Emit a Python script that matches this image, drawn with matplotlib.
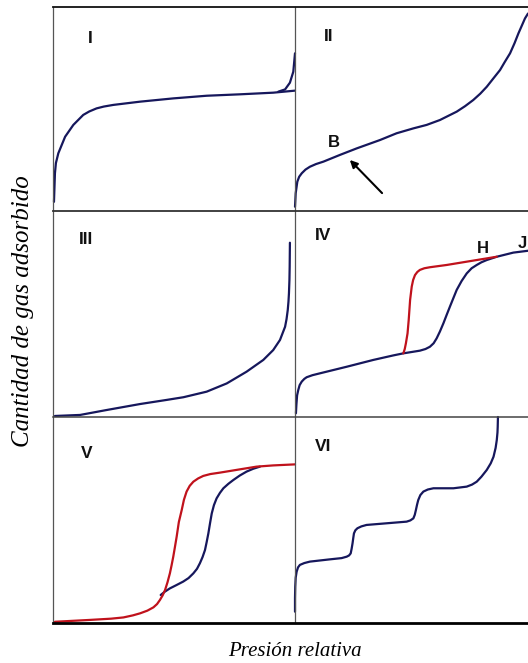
import matplotlib
matplotlib.use("Agg")
import matplotlib.pyplot as plt
from matplotlib.lines import Line2D

# ---------------- data (relative pressure, amount adsorbed; normalized per panel) -------------
I_x = [0.004, 0.008, 0.012, 0.022, 0.050, 0.084, 0.125, 0.150, 0.180, 0.210, 0.249, 0.360, 0.497,
       0.635, 0.773, 0.910, 1.0]
I_y = [0.045, 0.185, 0.235, 0.283, 0.364, 0.422, 0.471, 0.488, 0.503, 0.512, 0.520, 0.536, 0.552,
       0.565, 0.572, 0.580, 0.590]
I_bx = [0.931, 0.959, 0.979, 0.993, 1.0]
I_by = [0.585, 0.596, 0.629, 0.683, 0.773]

II_x = [0.0, 0.003, 0.010, 0.018, 0.029, 0.045, 0.064, 0.090, 0.122, 0.193, 0.265, 0.365, 0.436, 0.508,
        0.565, 0.622, 0.694, 0.730, 0.765, 0.795, 0.823, 0.850, 0.880, 0.900, 0.923, 0.942, 0.959,
        0.974, 0.987, 1.0]
II_y = [0.021, 0.087, 0.144, 0.168, 0.185, 0.203, 0.217, 0.230, 0.242, 0.275, 0.307, 0.348, 0.381, 0.405,
        0.422, 0.446, 0.487, 0.514, 0.544, 0.575, 0.609, 0.648, 0.691, 0.730, 0.773, 0.822, 0.871,
        0.910, 0.944, 0.968]

III_x = [0.008, 0.112, 0.222, 0.360, 0.470, 0.539, 0.635, 0.718, 0.800, 0.869, 0.910, 0.938, 0.959,
         0.965, 0.970, 0.973, 0.975, 0.977, 0.978, 0.979]
III_y = [0.005, 0.010, 0.034, 0.063, 0.083, 0.096, 0.123, 0.163, 0.220, 0.277, 0.325, 0.374, 0.438,
         0.475, 0.519, 0.560, 0.600, 0.665, 0.730, 0.846]

IV_ads_x = [0.004, 0.006, 0.009, 0.014, 0.020, 0.029, 0.040, 0.050, 0.075, 0.107, 0.222, 0.336, 0.422,
            0.465, 0.536, 0.560, 0.579, 0.595, 0.608, 0.622, 0.637, 0.651, 0.665, 0.680, 0.694, 0.715,
            0.737, 0.758, 0.780, 0.800, 0.823, 0.866, 0.937, 1.0]
IV_ads_y = [0.018, 0.060, 0.105, 0.131, 0.155, 0.172, 0.185, 0.193, 0.203, 0.212, 0.244, 0.277, 0.299,
            0.309, 0.322, 0.330, 0.341, 0.358, 0.382, 0.415, 0.455, 0.496, 0.536, 0.578, 0.617, 0.660,
            0.697, 0.722, 0.738, 0.751, 0.762, 0.778, 0.798, 0.807]
IV_des_x = [0.465, 0.471, 0.476, 0.483, 0.488, 0.494, 0.501, 0.507, 0.515, 0.525, 0.536, 0.555, 0.579,
            0.651, 0.737, 0.823, 0.866]
IV_des_y = [0.309, 0.330, 0.358, 0.406, 0.471, 0.568, 0.633, 0.665, 0.689, 0.704, 0.714, 0.722, 0.727,
            0.738, 0.754, 0.770, 0.778]

V_des_x = [0.008, 0.153, 0.240, 0.291, 0.330, 0.360, 0.390, 0.415, 0.430, 0.442, 0.453, 0.463, 0.473,
           0.483, 0.490, 0.497, 0.504, 0.511, 0.520, 0.532, 0.541, 0.552, 0.565, 0.580, 0.600, 0.621,
           0.650, 0.690, 0.773, 0.841, 0.910, 1.0]
V_des_y = [0.006, 0.015, 0.021, 0.027, 0.037, 0.047, 0.060, 0.076, 0.092, 0.112, 0.134, 0.160, 0.197,
           0.241, 0.280, 0.322, 0.370, 0.419, 0.490, 0.549, 0.598, 0.638, 0.666, 0.686, 0.702, 0.714,
           0.723, 0.730, 0.746, 0.759, 0.765, 0.770]
V_ads_x = [0.445, 0.462, 0.483, 0.510, 0.538, 0.560, 0.580, 0.595, 0.607, 0.618, 0.628, 0.635, 0.642,
           0.649, 0.656, 0.665, 0.676, 0.690, 0.704, 0.725, 0.745, 0.772, 0.800, 0.828, 0.855]
V_ads_y = [0.136, 0.152, 0.168, 0.184, 0.201, 0.218, 0.241, 0.263, 0.290, 0.320, 0.354, 0.393, 0.435,
           0.485, 0.532, 0.572, 0.605, 0.632, 0.654, 0.676, 0.694, 0.716, 0.735, 0.749, 0.759]

VI_x = [0.0, 0.0, 0.001, 0.003, 0.007, 0.013, 0.021, 0.040, 0.064, 0.150, 0.200, 0.222, 0.232, 0.239,
        0.243, 0.247, 0.250, 0.253, 0.259, 0.268, 0.285, 0.307, 0.393, 0.479, 0.495, 0.508, 0.514,
        0.519, 0.524, 0.529, 0.538, 0.551, 0.570, 0.594, 0.680, 0.737, 0.760, 0.780, 0.800, 0.823,
        0.840, 0.852, 0.861, 0.866, 0.869, 0.870, 0.871]
VI_y = [0.055, 0.120, 0.176, 0.220, 0.249, 0.270, 0.282, 0.291, 0.298, 0.309, 0.315, 0.322, 0.328, 0.338,
        0.360, 0.387, 0.412, 0.435, 0.450, 0.460, 0.469, 0.476, 0.484, 0.492, 0.498, 0.508, 0.525,
        0.549, 0.575, 0.597, 0.621, 0.638, 0.648, 0.654, 0.654, 0.662, 0.672, 0.686, 0.710, 0.743,
        0.775, 0.807, 0.850, 0.888, 0.925, 0.953, 1.0]

panel_labels = ["I", "II", "III", "IV", "V", "VI"]
label_pos = [(0.153, 0.848), (0.146, 0.853), (0.136, 0.864), (0.122, 0.883), (0.139, 0.824), (0.119, 0.856)]

# ---------------- figure ----------------
W, H = 528, 663
fig = plt.figure(figsize=(W / 100, H / 100), dpi=100)

BLUE = "#16175c"
RED = "#c0121c"
LW = 1.6

cols = [(53, 295), (295, 528)]
rows = [(7, 211), (211, 417), (417, 623)]

axes = []
for r in range(3):
    for c in range(2):
        x0, x1 = cols[c]
        y0, y1 = rows[r]
        ax = fig.add_axes([x0 / W, 1 - y1 / H, (x1 - x0) / W, (y1 - y0) / H])
        ax.set_xlim(0, 1)
        ax.set_ylim(0, 1)
        ax.set_axis_off()
        axes.append(ax)

kw = dict(color=BLUE, lw=LW, clip_on=False, solid_capstyle="round", solid_joinstyle="round")
kr = dict(color=RED, lw=LW, clip_on=False, solid_capstyle="round", solid_joinstyle="round")
axes[0].plot(I_x, I_y, **kw)
axes[0].plot(I_bx, I_by, **kw)
axes[1].plot(II_x, II_y, **kw)
axes[2].plot(III_x, III_y, **kw)
axes[3].plot(IV_ads_x, IV_ads_y, **kw)
axes[3].plot(IV_des_x, IV_des_y, **kr)
axes[4].plot(V_ads_x, V_ads_y, **kw)
axes[4].plot(V_des_x, V_des_y, **kr)
axes[5].plot(VI_x, VI_y, **kw)

for ax, lab, (lx, ly) in zip(axes, panel_labels, label_pos):
    ax.text(lx, ly, lab, fontsize=12.5, fontweight="bold", family="Liberation Sans",
            ha="center", va="center", color="#111111")

# B point and arrow in panel II
axes[1].text(0.167, 0.338, "B", fontsize=12, fontweight="bold", family="Liberation Sans",
             ha="center", va="center", color="#111111")
axes[1].annotate("", xy=(0.227, 0.26), xytext=(0.382, 0.078),
                 arrowprops=dict(arrowstyle="-|>", color="black", lw=1.5, mutation_scale=11))

# H and J in panel IV
axes[3].text(0.805, 0.819, "H", fontsize=12, fontweight="bold", family="Liberation Sans",
             ha="center", va="center", color="#111111")
axes[3].text(0.977, 0.843, "J", fontsize=12, fontweight="bold", family="Liberation Sans",
             ha="center", va="center", color="#111111", clip_on=False)

# grid / border lines (figure pixel coords)
def hline(y, lw, color):
    fig.add_artist(Line2D([53 / W, 1.0], [1 - y / H, 1 - y / H], transform=fig.transFigure,
                          color=color, lw=lw))

def vline(x, lw, color):
    fig.add_artist(Line2D([x / W, x / W], [1 - 7 / H, 1 - 623 / H], transform=fig.transFigure,
                          color=color, lw=lw))

vline(53, 0.9, "#555555")
vline(295, 0.9, "#555555")
hline(7, 1.3, "#111111")
hline(211, 1.3, "#333333")
hline(417, 1.1, "#444444")
hline(623, 2.0, "#000000")

fig.text(295 / W, 1 - 652 / H, "Presión relativa", fontsize=15, style="italic",
         family="Liberation Serif", ha="center", va="center")
fig.text(23 / W, 1 - 311 / H, "Cantidad de gas adsorbido", fontsize=18, style="italic",
         family="Liberation Serif", ha="center", va="center", rotation=90)

fig.savefig("out.png", dpi=100)
